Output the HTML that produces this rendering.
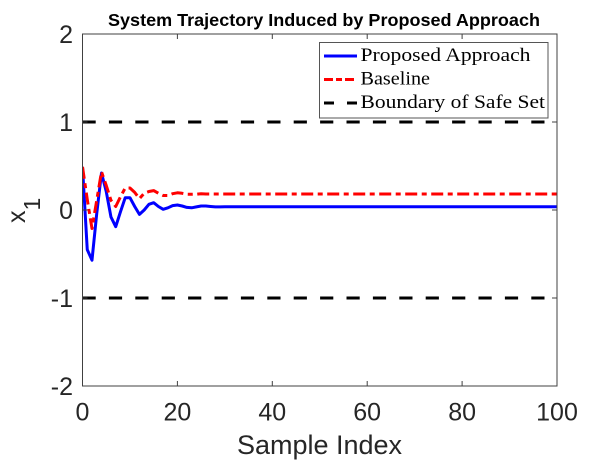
<!DOCTYPE html>
<html>
<head>
<meta charset="utf-8">
<style>
  html,body{margin:0;padding:0;background:#fff;}
  svg{display:block;}
  text{font-family:"Liberation Sans",Arial,sans-serif;}
</style>
</head>
<body>
<svg width="616" height="462" viewBox="0 0 616 462" xmlns="http://www.w3.org/2000/svg">
  <rect x="0" y="0" width="616" height="462" fill="#fff"/>
  <defs>
    <clipPath id="c"><rect x="82.5" y="34" width="474.5" height="352"/></clipPath>
  </defs>

  <!-- Title -->
  <text x="108" y="26" font-size="17.5" font-weight="bold" fill="#000" textLength="432" lengthAdjust="spacingAndGlyphs">System Trajectory Induced by Proposed Approach</text>

  <!-- Series -->
  <g clip-path="url(#c)" fill="none" stroke-linejoin="round">
    <polyline stroke="#0000ff" stroke-width="3" points="82.5,166.9 87.25,249.6 91.99,260.2 96.74,213.5 101.48,173 106.23,191.5 110.97,217 115.72,226.7 120.46,211.8 125.21,197.7 129.95,197.7 134.7,206.5 139.44,214.4 144.19,210 148.93,204.3 153.68,202.7 158.42,206.5 163.17,209.3 167.91,207.8 172.66,205.6 177.4,205 182.15,206 186.89,207.4 191.64,207.8 196.38,206.9 201.13,206 205.87,206 210.62,206.5 215.36,206.9 220.11,206.9 224.85,206.7 557,206.7"/>
    <polyline stroke="#ff0000" stroke-width="3" stroke-dasharray="12 4.5 5 4.5" points="82.5,166.9 87.25,199.4 91.99,228.5 96.74,200.3 101.48,171.7 106.23,185.4 110.97,200.3 115.72,206.5 120.46,196.8 125.21,188 129.95,188 134.7,192.4 139.44,198.6 144.19,193.3 148.93,191.5 153.68,190.6 158.42,193.3 163.17,195.5 167.91,195.5 172.66,193.7 177.4,192.8 182.15,193.3 186.89,194.2 191.64,194.3 196.38,194.2 201.13,193.7 205.87,194 557,194"/>
    <line x1="82.5" y1="122" x2="557" y2="122" stroke="#000" stroke-width="3" stroke-dasharray="13.2 13.2"/>
    <line x1="82.5" y1="298" x2="557" y2="298" stroke="#000" stroke-width="3" stroke-dasharray="13.2 13.2"/>
  </g>

  <!-- Axes box -->
  <rect x="82.5" y="34" width="474.5" height="352" fill="none" stroke="#404040" stroke-width="1"/>

  <!-- Ticks -->
  <g stroke="#404040" stroke-width="1">
    <!-- x ticks bottom & top -->
    <line x1="177.4" y1="386" x2="177.4" y2="381"/><line x1="177.4" y1="34" x2="177.4" y2="39"/>
    <line x1="272.3" y1="386" x2="272.3" y2="381"/><line x1="272.3" y1="34" x2="272.3" y2="39"/>
    <line x1="367.2" y1="386" x2="367.2" y2="381"/><line x1="367.2" y1="34" x2="367.2" y2="39"/>
    <line x1="462.1" y1="386" x2="462.1" y2="381"/><line x1="462.1" y1="34" x2="462.1" y2="39"/>
    <!-- y ticks left & right -->
    <line x1="82.5" y1="122" x2="87.5" y2="122"/><line x1="557" y1="122" x2="552" y2="122"/>
    <line x1="82.5" y1="210" x2="87.5" y2="210"/><line x1="557" y1="210" x2="552" y2="210"/>
    <line x1="82.5" y1="298" x2="87.5" y2="298"/><line x1="557" y1="298" x2="552" y2="298"/>
  </g>

  <!-- Y tick labels -->
  <g font-size="25" fill="#262626" text-anchor="end">
    <text x="73" y="43">2</text>
    <text x="73" y="131">1</text>
    <text x="73" y="219">0</text>
    <text x="73" y="307">-1</text>
    <text x="73" y="395">-2</text>
  </g>

  <!-- X tick labels -->
  <g font-size="25" fill="#262626" text-anchor="middle">
    <text x="82.5" y="420.5">0</text>
    <text x="177.4" y="420.5">20</text>
    <text x="272.3" y="420.5">40</text>
    <text x="367.2" y="420.5">60</text>
    <text x="462.1" y="420.5">80</text>
    <text x="557" y="420.5">100</text>
  </g>

  <!-- Axis labels -->
  <text x="319.5" y="454" font-size="27" fill="#262626" text-anchor="middle">Sample Index</text>
  <text transform="translate(25,223) rotate(-90)" font-size="25" fill="#262626">x<tspan dy="15" font-size="23">1</tspan></text>

  <!-- Legend -->
  <rect x="319.5" y="42.5" width="228.5" height="75.5" fill="#fff" stroke="#555" stroke-width="1"/>
  <line x1="324" y1="56" x2="357" y2="56" stroke="#0000ff" stroke-width="3"/>
  <line x1="324" y1="79.5" x2="357" y2="79.5" stroke="#ff0000" stroke-width="3" stroke-dasharray="9 3 6 3 9 3"/>
  <line x1="324" y1="103" x2="357" y2="103" stroke="#000" stroke-width="3" stroke-dasharray="10 13 10"/>
  <g font-family="'Liberation Serif','Times New Roman',serif" font-size="19" fill="#000">
    <text x="360.5" y="61" textLength="170" lengthAdjust="spacingAndGlyphs" style="font-family:'Liberation Serif',serif">Proposed Approach</text>
    <text x="360.5" y="84.5" textLength="69.5" lengthAdjust="spacingAndGlyphs" style="font-family:'Liberation Serif',serif">Baseline</text>
    <text x="360.5" y="108" textLength="184.5" lengthAdjust="spacingAndGlyphs" style="font-family:'Liberation Serif',serif">Boundary of Safe Set</text>
  </g>
</svg>
</body>
</html>
